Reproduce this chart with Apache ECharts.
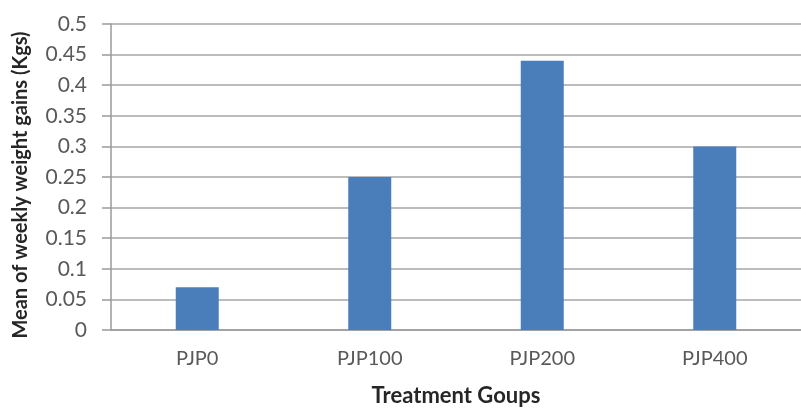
<!DOCTYPE html>
<html>
<head>
    <meta charset="utf-8">
    <title>Weekly weight gains</title>
    <script src="https://cdn.jsdelivr.net/npm/echarts@6/dist/echarts.min.js"></script>
    <style>
        body { margin: 0; background: #fff; }
        #main { width: 801px; height: 412px; }
    </style>
</head>
<body>
    <div id="main"></div>
    <script>
        var groups = ['PJP0', 'PJP100', 'PJP200', 'PJP400'];
        var weightGains = [0.07, 0.25, 0.44, 0.30];
        var yTicks = [0, 0.05, 0.1, 0.15, 0.2, 0.25, 0.3, 0.35, 0.4, 0.45, 0.5];

        var chart = echarts.init(document.getElementById('main'));
        chart.setOption({
            animation: false,
            textStyle: { fontFamily: 'Lato' },
            // plot is cut off on the right in the original picture
            grid: { left: 111, right: -10, top: 24, bottom: 75 },
            xAxis: {
                type: 'category',
                data: groups,
                name: 'Treatment Goups',
                nameLocation: 'middle',
                nameGap: 55,
                nameTextStyle: { fontWeight: 'bold', fontSize: 22, color: '#262626' },
                axisLine: { lineStyle: { color: '#9a9a9a', width: 1.5 } },
                axisTick: { show: false },
                axisLabel: { fontSize: 20, color: '#595959', margin: 19 }
            },
            yAxis: {
                type: 'value',
                min: 0,
                max: 0.5,
                interval: 0.05,
                name: 'Mean of weekly weight gains (Kgs)',
                nameLocation: 'middle',
                nameGap: 80,
                nameTextStyle: { fontWeight: 'bold', fontSize: 20, color: '#262626', padding: [0, 16, 0, 0] },
                axisLine: { show: true, lineStyle: { color: '#9a9a9a', width: 1.5 } },
                axisTick: { show: true, length: 9, lineStyle: { color: '#9a9a9a', width: 1.5 } },
                splitLine: { lineStyle: { color: '#bcbcbc', width: 2 } },
                axisLabel: {
                    fontSize: 21,
                    color: '#595959',
                    margin: 24,
                    formatter: function (v) {
                        var s = yTicks.find(function (t) { return Math.abs(t - v) < 1e-9; });
                        return String(s !== undefined ? s : v);
                    }
                }
            },
            series: [{
                type: 'bar',
                data: weightGains,
                barWidth: 43,
                itemStyle: { color: '#4a7ebb' }
            }]
        });
    </script>
</body>
</html>
